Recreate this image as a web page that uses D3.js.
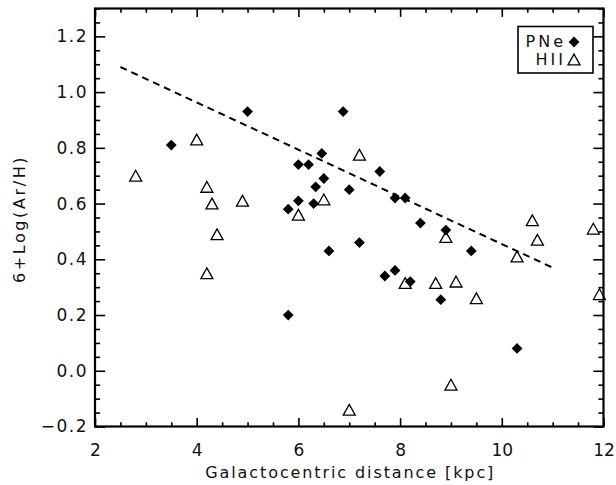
<!DOCTYPE html>
<html>
<head>
<meta charset="utf-8">
<script src="https://cdn.jsdelivr.net/npm/d3@7"></script>
<style>
html,body{margin:0;padding:0;background:#fff;}
svg{display:block;}
text{font-family:"DejaVu Sans",sans-serif;fill:#111;}
</style>
</head>
<body>
<svg id="chart" width="616" height="485"></svg>
<script>
// ---- data ----
const pneDist = [3.5, 5.0, 5.8, 5.8, 6.0, 6.0, 6.2, 6.3, 6.34, 6.46, 6.5, 6.6, 6.88, 7.0, 7.2, 7.6, 7.7, 7.9, 7.9, 8.1, 8.2, 8.4, 8.8, 8.9, 9.4, 10.3];
const pneAr   = [0.81, 0.93, 0.58, 0.20, 0.74, 0.61, 0.74, 0.60, 0.66, 0.78, 0.69, 0.43, 0.93, 0.65, 0.46, 0.715, 0.34, 0.62, 0.36, 0.62, 0.32, 0.53, 0.255, 0.505, 0.43, 0.08];
const hiiDist = [2.8, 4.0, 4.2, 4.2, 4.3, 4.4, 4.9, 6.0, 6.5, 7.0, 7.2, 8.1, 8.7, 8.9, 9.0, 9.1, 9.5, 10.3, 10.6, 10.7, 11.8, 11.92];
const hiiAr   = [0.70, 0.83, 0.66, 0.35, 0.60, 0.49, 0.61, 0.56, 0.615, -0.14, 0.775, 0.315, 0.315, 0.48, -0.05, 0.32, 0.26, 0.41, 0.54, 0.47, 0.51, 0.275];
const fitDist = [2.5, 11.0];
const fitAr   = [1.09, 0.37];
const xTicks = [2, 4, 6, 8, 10, 12];
const yTicks = [-0.2, 0.0, 0.2, 0.4, 0.6, 0.8, 1.0, 1.2];
const xLabel = "Galactocentric distance [kpc]";
const yLabel = "6+Log(Ar/H)";
const legendNames = ["PNe", "HII"];

// ---- layout ----
const L = 95, R = 603.5, T = 8.5, B = 426.5;
const x = d3.scaleLinear().domain([2, 12]).range([L, R]);
const y = d3.scaleLinear().domain([-0.2, 1.3]).range([B, T]);
const svg = d3.select("#chart");

const xMinor = d3.range(2, 12.001, 0.5).filter(v => Math.abs(v % 2) > 1e-6);
const yMinor = d3.range(-0.2, 1.3001, 0.05).map(v => +v.toFixed(2)).filter(v => !yTicks.some(t => Math.abs(t - v) < 1e-6));

const xt = 8.4, yt = 10.2;
function styleAxis(g) {
  g.select(".domain").remove();
  g.selectAll("line").attr("stroke", "#000").attr("stroke-width", 1.6);
  g.selectAll("text").style("font-family", '"DejaVu Sans",sans-serif').style("font-size", "17px").attr("fill", "#111");
}
// bottom
svg.append("g").attr("transform", `translate(0,${B})`)
  .call(d3.axisBottom(x).tickValues(xTicks).tickFormat(d3.format("d")).tickSizeInner(-xt).tickSizeOuter(0).tickPadding(17))
  .call(styleAxis);
svg.append("g").attr("transform", `translate(0,${B})`)
  .call(d3.axisBottom(x).tickValues(xMinor).tickFormat("").tickSizeInner(-xt/2).tickSizeOuter(0))
  .call(styleAxis);
// top
svg.append("g").attr("transform", `translate(0,${T})`)
  .call(d3.axisTop(x).tickValues(xTicks).tickFormat("").tickSizeInner(-xt).tickSizeOuter(0))
  .call(styleAxis);
svg.append("g").attr("transform", `translate(0,${T})`)
  .call(d3.axisTop(x).tickValues(xMinor).tickFormat("").tickSizeInner(-xt/2).tickSizeOuter(0))
  .call(styleAxis);
// left
svg.append("g").attr("transform", `translate(${L},0)`)
  .call(d3.axisLeft(y).tickValues(yTicks).tickFormat(d => d < 0 ? "\u2212" + Math.abs(d).toFixed(1) : d.toFixed(1)).tickSizeInner(-yt).tickSizeOuter(0).tickPadding(7))
  .call(styleAxis)
  .call(g => g.selectAll("text").style("letter-spacing", "1.5px"));
svg.append("g").attr("transform", `translate(${L},0)`)
  .call(d3.axisLeft(y).tickValues(yMinor).tickFormat("").tickSizeInner(-yt/2).tickSizeOuter(0))
  .call(styleAxis);
// right
svg.append("g").attr("transform", `translate(${R},0)`)
  .call(d3.axisRight(y).tickValues(yTicks).tickFormat("").tickSizeInner(-yt).tickSizeOuter(0))
  .call(styleAxis);
svg.append("g").attr("transform", `translate(${R},0)`)
  .call(d3.axisRight(y).tickValues(yMinor).tickFormat("").tickSizeInner(-yt/2).tickSizeOuter(0))
  .call(styleAxis);

// frame
svg.append("rect").attr("x", L).attr("y", T).attr("width", R - L).attr("height", B - T)
  .attr("fill", "none").attr("stroke", "#000").attr("stroke-width", 2.2);

// fit line
svg.append("path")
  .datum(fitDist.map((d, i) => [d, fitAr[i]]))
  .attr("d", d3.line().x(d => x(d[0])).y(d => y(d[1])))
  .attr("fill", "none").attr("stroke", "#000").attr("stroke-width", 2)
  .attr("stroke-dasharray", "7,5");

// markers
const ds = 5.4;
const diamondPath = `M0,${-ds}L${ds},0L0,${ds}L${-ds},0Z`;
const tw = 6, th = 5.4;
const triPath = `M0,${-th}L${tw},${th}L${-tw},${th}Z`;

svg.append("g").selectAll("path")
  .data(pneDist.map((d, i) => [d, pneAr[i]]))
  .join("path")
  .attr("d", diamondPath)
  .attr("transform", d => `translate(${x(d[0])},${y(d[1])})`)
  .attr("fill", "#000");

svg.append("g").selectAll("path")
  .data(hiiDist.map((d, i) => [d, hiiAr[i]]))
  .join("path")
  .attr("d", triPath)
  .attr("transform", d => `translate(${x(d[0])},${y(d[1])})`)
  .attr("fill", "none").attr("stroke", "#000").attr("stroke-width", 1.3);

// axis titles
svg.append("text").attr("x", (L + R) / 2 + 1).attr("y", 478).attr("text-anchor", "middle")
  .style("font-size", "16px").style("letter-spacing", "1.9px").text(xLabel);
svg.append("text").attr("transform", `translate(25,${219}) rotate(-90)`).attr("text-anchor", "middle")
  .style("font-size", "16px").style("letter-spacing", "2.6px").text(yLabel);

// legend
const lg = svg.append("g");
lg.append("rect").attr("x", 518).attr("y", 26.5).attr("width", 75).attr("height", 46.5)
  .attr("fill", "#fff").attr("stroke", "#000").attr("stroke-width", 1.6);
lg.append("text").attr("x", 566).attr("y", 47).attr("text-anchor", "end").style("font-size", "16px").style("letter-spacing", "3px").text(legendNames[0]);
lg.append("text").attr("x", 566).attr("y", 65).attr("text-anchor", "end").style("font-size", "16px").style("letter-spacing", "3px").text(legendNames[1]);
lg.append("path").attr("d", diamondPath).attr("transform", "translate(574,42)").attr("fill", "#000");
lg.append("path").attr("d", triPath).attr("transform", "translate(574,59.5)").attr("fill", "none").attr("stroke", "#000").attr("stroke-width", 1.3);
</script>
</body>
</html>
